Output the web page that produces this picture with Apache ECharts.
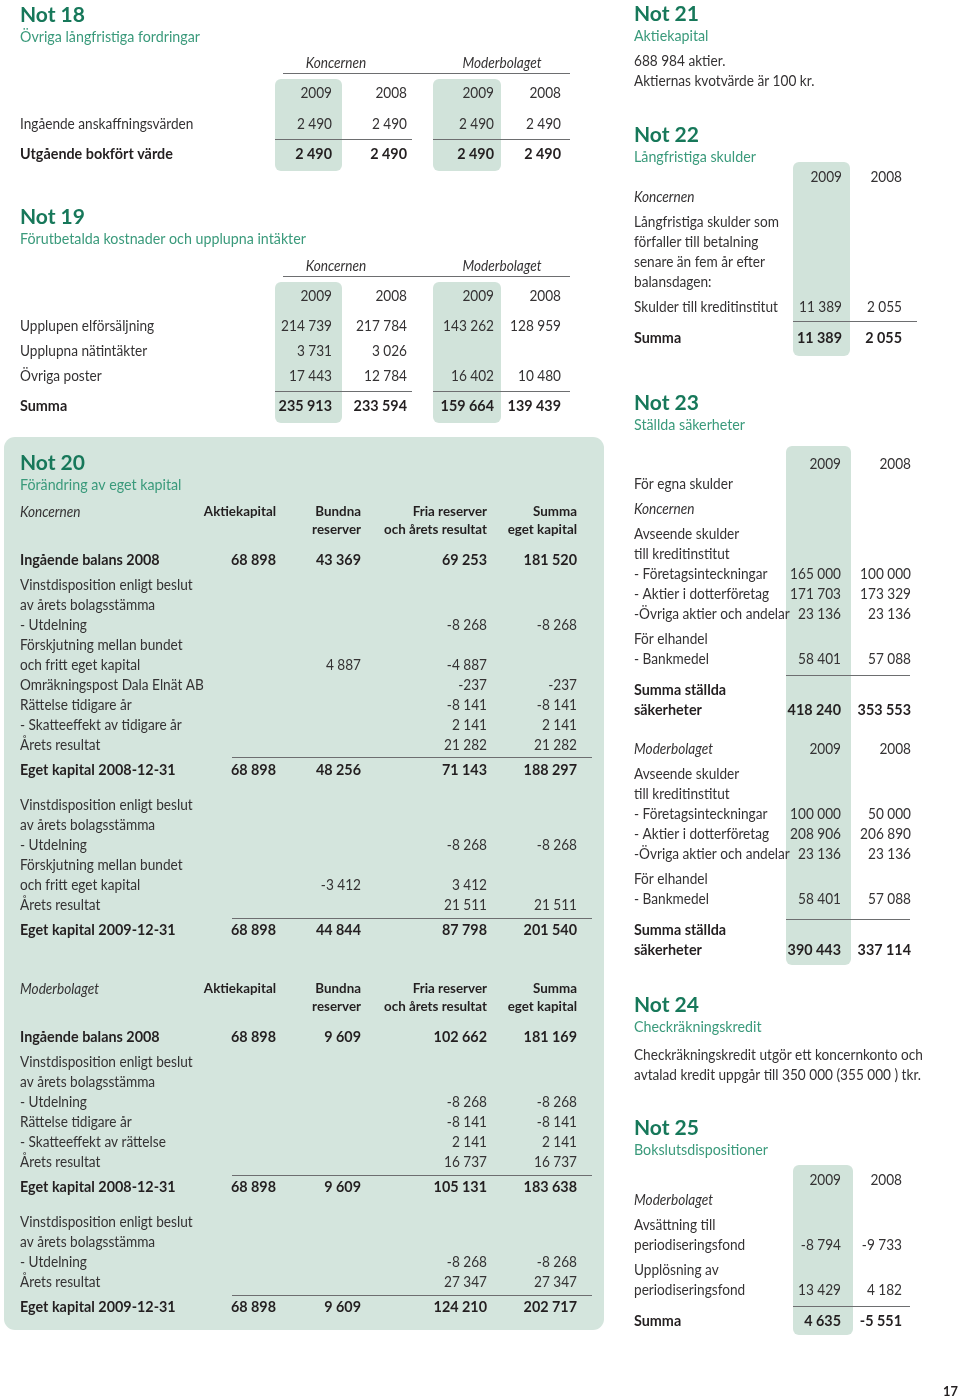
<!DOCTYPE html>
<html><head><meta charset="utf-8">
<script src="https://cdn.jsdelivr.net/npm/echarts@6/dist/echarts.min.js"></script>
<style>html,body{margin:0;padding:0;background:#fff}#c{width:960px;height:1400px}</style>
</head><body><div id="c"></div>
<script>
// ================= DATA =================
const yearLabels = ['2009', '2008'];
const groupLabels = ['Koncernen', 'Moderbolaget'];

// Not 18
const not18Title = ['Not 18', 'Övriga långfristiga fordringar'];
const not18Labels = ['Ingående anskaffningsvärden', 'Utgående bokfört värde'];
const not18Values = [[2490, 2490, 2490, 2490], [2490, 2490, 2490, 2490]];

// Not 19
const not19Title = ['Not 19', 'Förutbetalda kostnader och upplupna intäkter'];
const not19Labels = ['Upplupen elförsäljning', 'Upplupna nätintäkter', 'Övriga poster', 'Summa'];
const not19Values = [
  [214739, 217784, 143262, 128959],
  [3731, 3026, null, null],
  [17443, 12784, 16402, 10480],
  [235913, 233594, 159664, 139439]
];

// Not 20
const not20Title = ['Not 20', 'Förändring av eget kapital'];
const not20Headers = [['Aktiekapital'], ['Bundna', 'reserver'], ['Fria reserver', 'och årets resultat'], ['Summa', 'eget kapital']];
const not20KLabels = ['Ingående balans 2008', 'Vinstdisposition enligt beslut', 'av årets bolagsstämma', '- Utdelning',
  'Förskjutning mellan bundet', 'och fritt eget kapital', 'Omräkningspost Dala Elnät AB', 'Rättelse tidigare år',
  '- Skatteeffekt av tidigare år', 'Årets resultat', 'Eget kapital 2008-12-31', 'Vinstdisposition enligt beslut',
  'av årets bolagsstämma', '- Utdelning', 'Förskjutning mellan bundet', 'och fritt eget kapital', 'Årets resultat',
  'Eget kapital 2009-12-31'];
const not20KValues = [
  [68898, 43369, 69253, 181520], [], [], [null, null, -8268, -8268],
  [], [null, 4887, -4887, null], [null, null, -237, -237], [null, null, -8141, -8141],
  [null, null, 2141, 2141], [null, null, 21282, 21282], [68898, 48256, 71143, 188297], [],
  [], [null, null, -8268, -8268], [], [null, -3412, 3412, null], [null, null, 21511, 21511],
  [68898, 44844, 87798, 201540]
];
const not20MLabels = ['Ingående balans 2008', 'Vinstdisposition enligt beslut', 'av årets bolagsstämma', '- Utdelning',
  'Rättelse tidigare år', '- Skatteeffekt av rättelse', 'Årets resultat', 'Eget kapital 2008-12-31',
  'Vinstdisposition enligt beslut', 'av årets bolagsstämma', '- Utdelning', 'Årets resultat', 'Eget kapital 2009-12-31'];
const not20MValues = [
  [68898, 9609, 102662, 181169], [], [], [null, null, -8268, -8268],
  [null, null, -8141, -8141], [null, null, 2141, 2141], [null, null, 16737, 16737], [68898, 9609, 105131, 183638],
  [], [], [null, null, -8268, -8268], [null, null, 27347, 27347], [68898, 9609, 124210, 202717]
];

// Not 21
const not21Title = ['Not 21', 'Aktiekapital'];
const not21Text = ['688 984 aktier.', 'Aktiernas kvotvärde är 100 kr.'];

// Not 22
const not22Title = ['Not 22', 'Långfristiga skulder'];
const not22Labels = ['Koncernen', 'Långfristiga skulder som', 'förfaller till betalning', 'senare än fem år efter',
  'balansdagen:', 'Skulder till kreditinstitut', 'Summa'];
const not22Values = [[], [], [], [], [], [11389, 2055], [11389, 2055]];

// Not 23
const not23Title = ['Not 23', 'Ställda säkerheter'];
const not23Labels = ['För egna skulder', 'Koncernen', 'Avseende skulder', 'till kreditinstitut', '- Företagsinteckningar',
  '- Aktier i dotterföretag', '-Övriga aktier och andelar', 'För elhandel', '- Bankmedel', 'Summa ställda', 'säkerheter',
  'Moderbolaget', 'Avseende skulder', 'till kreditinstitut', '- Företagsinteckningar', '- Aktier i dotterföretag',
  '-Övriga aktier och andelar', 'För elhandel', '- Bankmedel', 'Summa ställda', 'säkerheter'];
const not23Values = [[], [], [], [], [165000, 100000], [171703, 173329], [23136, 23136], [], [58401, 57088], [],
  [418240, 353553], [], [], [], [100000, 50000], [208906, 206890], [23136, 23136], [], [58401, 57088], [], [390443, 337114]];

// Not 24
const not24Title = ['Not 24', 'Checkräkningskredit'];
const not24Text = ['Checkräkningskredit utgör ett koncernkonto och', 'avtalad kredit uppgår till 350 000 (355 000 ) tkr.'];

// Not 25
const not25Title = ['Not 25', 'Bokslutsdispositioner'];
const not25Labels = ['Moderbolaget', 'Avsättning till', 'periodiseringsfond', 'Upplösning av', 'periodiseringsfond', 'Summa'];
const not25Values = [[], [], [-8794, -9733], [], [13429, 4182], [4635, -5551]];

const pageNumber = '17';

// ================= STYLE / LAYOUT =================
const FONT = 'Lato, "Open Sans", sans-serif';
const C_TEXT = '#231f20';
const C_LIGHT = '#343233';
const C_HEAD = '#17785a';
const C_SUB = '#3a9a7b';
const C_SHADE = '#d1e3da';
const C_PANEL = '#d4e5dd';
const C_LINE = '#6d6e70';
const BODY = 14.5;

const G = [];
function fmt(v) {
  if (v === null || v === undefined) return '';
  const s = String(Math.abs(v)).replace(/\B(?=(\d{3})+(?!\d))/g, ' ');
  return (v < 0 ? '-' : '') + s;
}
function txt(x, y, s, o) {
  o = o || {};
  const bold = o.weight === 'bold';
  const w = o.weight || '400';
  G.push({
    type: 'text', x: x, y: y, z: 10, silent: true,
    scaleX: o.sx || (bold ? 0.99 : 0.94),
    style: {
      text: s, fill: o.color || (bold ? C_TEXT : C_LIGHT),
      font: (o.italic ? 'italic ' : '') + w + ' ' + (o.size || BODY) + 'px ' + FONT,
      align: o.align || 'left', verticalAlign: 'middle',
      textAlign: o.align || 'left', textVerticalAlign: 'middle'
    }
  });
}
function rect(x, y, w, h, fill, r, z) {
  G.push({ type: 'rect', z: z || 1, silent: true, shape: { x: x, y: y, width: w, height: h, r: r || 0 }, style: { fill: fill } });
}
function hline(x1, x2, y) {
  G.push({ type: 'line', z: 5, silent: true, shape: { x1: x1, y1: y + 0.5, x2: x2, y2: y + 0.5 }, style: { stroke: C_LINE, lineWidth: 1 } });
}
function title(x, y, t) {
  txt(x, y, t[0], { size: 21, weight: 'bold', color: C_HEAD, sx: 1 });
  txt(x, y + 22, t[1], { size: 15, weight: '400', color: C_SUB, sx: 0.95 });
}
function rowVals(cols, y, vals, bold) {
  (vals || []).forEach(function (v, i) {
    if (v !== null && v !== undefined) txt(cols[i], y, fmt(v), { align: 'right', weight: bold ? 'bold' : '400' });
  });
}

// ---------- Not 18 ----------
(function () {
  const cols = [332, 407, 494, 561];
  title(20, 15, not18Title);
  rect(275, 79, 67, 92, C_SHADE, 6);
  rect(433, 79, 68, 92, C_SHADE, 6);
  txt(336, 63, groupLabels[0], { italic: true, align: 'center' });
  txt(502, 63, groupLabels[1], { italic: true, align: 'center' });
  hline(283, 570, 73);
  [0, 1, 0, 1].forEach(function (k, i) { txt(cols[i], 93, yearLabels[k], { align: 'right' }); });
  const ys = [124, 154];
  not18Labels.forEach(function (l, i) {
    const b = i === 1;
    txt(20, ys[i], l, { weight: b ? 'bold' : '400' });
    rowVals(cols, ys[i], not18Values[i], b);
  });
  hline(275, 412, 139); hline(433, 570, 139);
})();

// ---------- Not 19 ----------
(function () {
  const cols = [332, 407, 494, 561];
  title(20, 217, not19Title);
  rect(275, 282, 67, 141, C_SHADE, 6);
  rect(433, 282, 68, 141, C_SHADE, 6);
  txt(336, 266, groupLabels[0], { italic: true, align: 'center' });
  txt(502, 266, groupLabels[1], { italic: true, align: 'center' });
  hline(283, 570, 276);
  [0, 1, 0, 1].forEach(function (k, i) { txt(cols[i], 296, yearLabels[k], { align: 'right' }); });
  const ys = [326, 351, 376, 406];
  not19Labels.forEach(function (l, i) {
    const b = i === 3;
    txt(20, ys[i], l, { weight: b ? 'bold' : '400' });
    rowVals(cols, ys[i], not19Values[i], b);
  });
  hline(275, 412, 391); hline(433, 570, 391);
})();

// ---------- Not 20 ----------
(function () {
  rect(4, 437, 600, 893, C_PANEL, 11, 0);
  title(20, 463, not20Title);
  const cols = [276, 361, 487, 577];
  function header(y, group) {
    txt(20, y, group, { italic: true });
    not20Headers.forEach(function (h, i) {
      h.forEach(function (s, j) { txt(cols[i], y + j * 18, s, { align: 'right', weight: 'bold', size: 13.5 }); });
    });
  }
  function block(labels, values, ys, bolds) {
    labels.forEach(function (l, i) {
      const b = bolds.indexOf(i) >= 0;
      txt(20, ys[i], l, { weight: b ? 'bold' : '400' });
      rowVals(cols, ys[i], values[i], b);
    });
  }
  header(512, groupLabels[0]);
  block(not20KLabels, not20KValues,
    [560, 585, 605, 625, 645, 665, 685, 705, 725, 745, 770, 805, 825, 845, 865, 885, 905, 930], [0, 10, 17]);
  hline(232, 592, 757); hline(232, 592, 918);
  header(989, groupLabels[1]);
  block(not20MLabels, not20MValues,
    [1037, 1062, 1082, 1102, 1122, 1142, 1162, 1187, 1222, 1242, 1262, 1282, 1307], [0, 7, 12]);
  hline(232, 592, 1175); hline(232, 592, 1295);
})();

// ---------- Right column ----------
const RX = 634;
// Not 21
title(RX, 14, not21Title);
not21Text.forEach(function (s, i) { txt(RX, 61 + i * 20, s); });

// Not 22
(function () {
  const cols = [842, 902];
  title(RX, 135, not22Title);
  rect(793, 162, 57, 194, C_SHADE, 6);
  txt(cols[0], 177, yearLabels[0], { align: 'right' });
  txt(cols[1], 177, yearLabels[1], { align: 'right' });
  const ys = [197, 222, 242, 262, 282, 307, 338];
  not22Labels.forEach(function (l, i) {
    const b = i === 6;
    txt(RX, ys[i], l, { weight: b ? 'bold' : '400', italic: i === 0 });
    rowVals(cols, ys[i], not22Values[i], b);
  });
  hline(793, 917, 321);
})();

// Not 23
(function () {
  const cols = [841, 911];
  title(RX, 403, not23Title);
  rect(786, 446, 65, 519, C_SHADE, 6);
  txt(cols[0], 464, yearLabels[0], { align: 'right' });
  txt(cols[1], 464, yearLabels[1], { align: 'right' });
  txt(cols[0], 749, yearLabels[0], { align: 'right' });
  txt(cols[1], 749, yearLabels[1], { align: 'right' });
  const ys = [484, 509, 534, 554, 574, 594, 614, 639, 659, 690, 710, 749, 774, 794, 814, 834, 854, 879, 899, 930, 950];
  const italics = [1, 11];
  const bolds = [9, 10, 19, 20];
  not23Labels.forEach(function (l, i) {
    const b = bolds.indexOf(i) >= 0;
    txt(RX, ys[i], l, { weight: b ? 'bold' : '400', italic: italics.indexOf(i) >= 0 });
    rowVals(cols, ys[i], not23Values[i], b);
  });
  hline(786, 910, 675); hline(786, 910, 919);
})();

// Not 24
title(RX, 1005, not24Title);
not24Text.forEach(function (s, i) { txt(RX, 1055 + i * 20, s); });

// Not 25
(function () {
  const cols = [841, 902];
  title(RX, 1128, not25Title);
  rect(793, 1165, 60, 170, C_SHADE, 6);
  txt(cols[0], 1180, yearLabels[0], { align: 'right' });
  txt(cols[1], 1180, yearLabels[1], { align: 'right' });
  const ys = [1200, 1225, 1245, 1270, 1290, 1321];
  not25Labels.forEach(function (l, i) {
    const b = i === 5;
    txt(RX, ys[i], l, { weight: b ? 'bold' : '400', italic: i === 0 });
    rowVals(cols, ys[i], not25Values[i], b);
  });
  hline(793, 910, 1306);
})();

txt(958, 1392, pageNumber, { align: 'right', weight: 'bold', size: 13 });

const chart = echarts.init(document.getElementById('c'), null, { renderer: 'canvas' });
chart.setOption({ backgroundColor: '#ffffff', animation: false, graphic: { elements: G } });
</script>
</body></html>
